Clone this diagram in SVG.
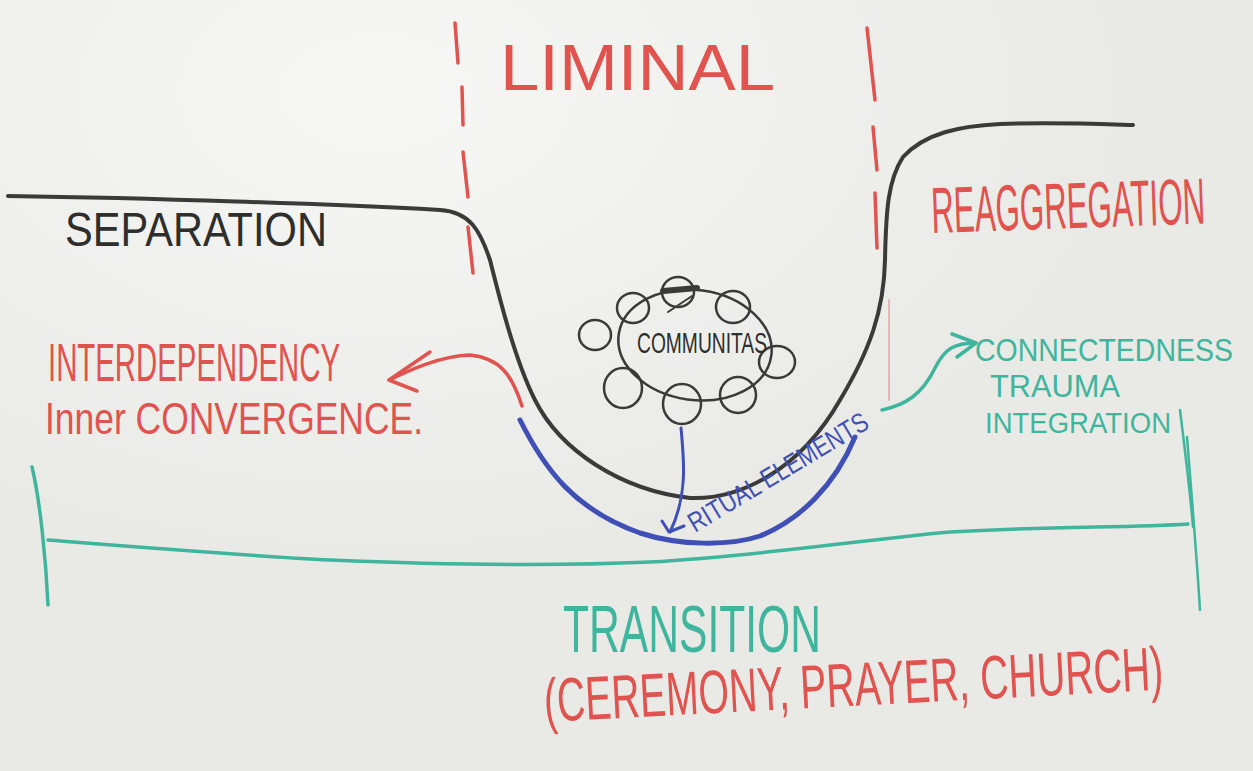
<svg xmlns="http://www.w3.org/2000/svg" width="1253" height="771" viewBox="0 0 1253 771">
<defs>
<radialGradient id="glare" cx="0.3" cy="0.12" r="0.6">
<stop offset="0" stop-color="#f7f8f5"/>
<stop offset="1" stop-color="#e9eae6"/>
</radialGradient>
<style>
.ink{fill:none;stroke-linecap:round;stroke-linejoin:round}
.blk{stroke:#3a3a38}
.red{stroke:#e0534f}
.blu{stroke:#3f4fb5}
.tea{stroke:#3fb59d}
.t{font-family:"Liberation Sans",Arial,sans-serif}
.tr{fill:#e0534f}
.tb{fill:#2e2e2c}
.tbl{fill:#3f4fb5}
.tt{fill:#3fb59d}
</style>
</defs>
<rect width="1253" height="771" fill="url(#glare)"/>

<g id="liminal-bounds">
<g class="ink red" stroke-width="3.5">
<path d="M455,23 L458,63"/>
<path d="M462,87 L463,125"/>
<path d="M463,152 L468,197"/>
<path d="M468,227 L473,273"/>
<path d="M867,28 L875,100"/>
<path d="M873,127 L877,170"/>
<path d="M875,193 L877,248"/>
<path d="M889,300 L889,400" stroke-width="2" opacity="0.35"/>
</g>
<text class="t tr" x="500" y="90" font-size="64" textLength="275" lengthAdjust="spacingAndGlyphs">LIMINAL</text>
</g>

<g id="phase-curve">
<path class="ink blk" stroke-width="4" d="M8,196 C150,198 330,204 440,210 C470,212 480,230 490,260 C500,300 515,360 535,400 C560,450 620,490 690,498 C740,500 800,470 840,400 C870,350 884,310 885,260 C886,210 888,180 903,157 C925,133 960,126 1000,124 C1050,122 1100,124 1133,125"/>
</g>

<g id="separation">
<text class="t tb" font-size="40" textLength="262" lengthAdjust="spacingAndGlyphs" transform="translate(65 246) scale(1 1.2)">SEPARATION</text>
</g>

<g id="reaggregation">
<text class="t tr" font-size="31" textLength="274" lengthAdjust="spacingAndGlyphs" transform="translate(932 233) rotate(-2) scale(1 2.1)">REAGGREGATION</text>
</g>

<g id="communitas">
<g class="ink blk" stroke-width="2.5">
<ellipse cx="695" cy="345" rx="77" ry="55" transform="rotate(8 695 345)"/>
<ellipse cx="595" cy="335" rx="16" ry="15"/>
<ellipse cx="633" cy="308" rx="16" ry="15"/>
<ellipse cx="678" cy="292" rx="16" ry="15"/>
<ellipse cx="733" cy="307" rx="17" ry="16"/>
<ellipse cx="777" cy="362" rx="18" ry="16"/>
<ellipse cx="623" cy="388" rx="19" ry="20"/>
<ellipse cx="682" cy="404" rx="19" ry="20"/>
<ellipse cx="738" cy="395" rx="18" ry="18"/>
<path d="M663,291 L697,288" stroke-width="6"/>
<path d="M668,312 L692,296" stroke-width="2"/>
</g>
<text class="t tb" font-size="19" textLength="130" lengthAdjust="spacingAndGlyphs" transform="translate(637 353) scale(1 1.6)">COMMUNITAS</text>
</g>

<g id="interdependency">
<text class="t tr" font-size="29" textLength="292" lengthAdjust="spacingAndGlyphs" transform="translate(48 381) scale(1 1.85)">INTERDEPENDENCY</text>
<text class="t tr" font-size="35" textLength="378" lengthAdjust="spacingAndGlyphs" transform="translate(45 434) scale(1 1.25)">Inner CONVERGENCE.</text>
</g>

<g id="ritual-elements">
<text class="t tbl" font-size="22" textLength="205" lengthAdjust="spacingAndGlyphs" transform="translate(695 533) rotate(-31) scale(1 1.25)">RITUAL ELEMENTS</text>
</g>

<g id="connectedness">
<text class="t tt" font-size="28" textLength="258" lengthAdjust="spacingAndGlyphs" transform="translate(975 361) scale(1 1.1)">CONNECTEDNESS</text>
<text class="t tt" font-size="29" textLength="130" lengthAdjust="spacingAndGlyphs" transform="translate(990 397) scale(1 1.1)">TRAUMA</text>
<text class="t tt" font-size="27" textLength="186" lengthAdjust="spacingAndGlyphs" transform="translate(985 433) scale(1 1.1)">INTEGRATION</text>
</g>

<g id="transition">
<g class="ink tea" stroke-width="3.5">
<path d="M32,467 C40,500 46,560 48,605"/>
<path d="M48,540 C150,548 250,556 330,560 C450,565 560,566 650,562 C760,556 860,540 950,532 C1050,526 1130,528 1188,524"/>
<path d="M1180,410 C1185,450 1190,490 1193,527" stroke-width="2.5"/>
<path d="M1187,437 C1192,500 1197,560 1200,610" stroke-width="2.5"/>
</g>
<text class="t tt" x="563" y="652" font-size="66" textLength="258" lengthAdjust="spacingAndGlyphs">TRANSITION</text>
<text class="t tr" font-size="38.5" textLength="620" lengthAdjust="spacingAndGlyphs" transform="translate(545 722) rotate(-3) scale(1 1.6)">(CEREMONY, PRAYER, CHURCH)</text>
</g>

<g id="connectors">
<path class="ink red" stroke-width="3.5" d="M522,406 C512,375 500,358 470,355 C440,356 410,370 389,380"/>
<path class="ink red" stroke-width="3.5" d="M430,352 L389,380 L417,391"/>
<path class="ink blu" stroke-width="3" d="M681,428 C684,460 688,495 670,532"/>
<path class="ink blu" stroke-width="3" d="M662,521 L669,532 L684,526"/>
<path class="ink blu" stroke-width="5" d="M520,420 C545,470 575,510 640,533 C680,546 730,546 760,536 C800,520 835,485 855,437"/>
<path class="ink tea" stroke-width="3.5" d="M882,410 C905,405 922,395 935,368 C945,348 955,343 976,343"/>
<path class="ink tea" stroke-width="3.5" d="M952,334 L976,343 L957,357"/>
</g>
</svg>
